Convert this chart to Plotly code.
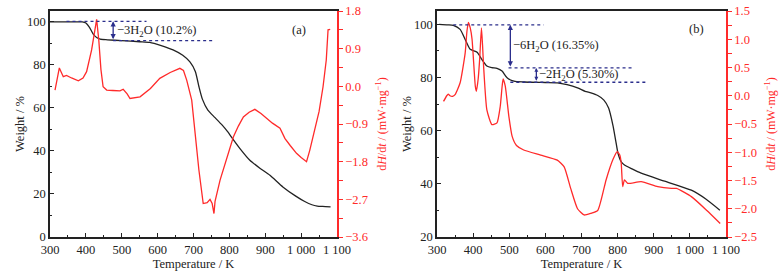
import plotly.graph_objects as go

# ---------- data: panel (a) ----------
tg_a_T = [300, 350, 390, 400, 410, 420, 430, 440, 460, 500, 550, 578, 610, 643, 670, 690, 705, 715, 725, 740, 760, 780, 795, 810, 830, 857, 885, 913, 949, 985, 1010, 1030, 1045, 1060, 1082]
tg_a_W = [100, 100, 100, 99.5, 97.5, 94.5, 92.8, 92.0, 91.7, 91.3, 90.8, 90.5, 89.0, 87.0, 84.5, 81.4, 77, 70, 64, 59, 55.5, 52, 49, 45.5, 41, 35.7, 32, 28.7, 23.3, 19, 16.5, 15, 14.4, 14.2, 14.0]

dsc_a_T = [314, 326, 337, 346, 360, 379, 392, 402, 416, 424, 430, 436, 442, 448, 458, 475, 495, 504, 515, 523, 551, 580, 606, 635, 662, 672, 681, 695, 704, 715, 727, 738, 746, 752, 757, 760, 774, 792, 806, 811, 825, 839, 855, 871, 888, 904, 920, 941, 955, 970, 987, 1000, 1015, 1024, 1038, 1050, 1061, 1070, 1075, 1081]
dsc_a_V = [-0.09, 0.44, 0.23, 0.26, 0.2, 0.13, 0.2, 0.35, 0.87, 1.3, 1.6, 1.1, 0.4, -0.01, -0.09, -0.1, -0.11, -0.07, -0.18, -0.29, -0.25, -0.05, 0.19, 0.33, 0.43, 0.38, 0.15, -0.33, -1.12, -2.0, -2.8, -2.78, -2.7, -2.8, -3.04, -2.75, -2.24, -1.72, -1.33, -1.21, -0.95, -0.73, -0.62, -0.55, -0.65, -0.77, -0.88, -1.0, -1.25, -1.42, -1.6, -1.7, -1.8, -1.53, -1.05, -0.6, -0.01, 0.63, 1.35, 1.36]

# ---------- data: panel (b) ----------
tg_b_T = [306, 330, 345, 364, 378, 392, 411, 424, 438, 452, 466, 480, 494, 513, 540, 600, 633, 660, 689, 710, 726, 745, 762, 775, 787, 795, 801, 810, 819, 840, 865, 930, 1004, 1045, 1083]
tg_b_W = [100, 99.8, 99.6, 98.1, 94.3, 90.6, 89.5, 86.8, 84.3, 83.7, 83.4, 82.4, 79.9, 78.6, 78.3, 78.1, 78.0, 77.3, 76.1, 74.8, 74.2, 73.2, 71.5, 68.5, 62, 56, 51.5, 48.3, 47.1, 45.6, 44.0, 41.0, 37.6, 34.2, 30.1]

dsc_b_T = [318, 327, 331, 336, 343, 350, 364, 378, 383, 387, 392, 397, 406, 409, 414, 418, 423, 426, 429, 438, 452, 466, 475, 480, 483, 489, 499, 508, 520, 540, 587, 633, 652, 670, 689, 707, 726, 745, 768, 787, 799, 806, 810, 814, 819, 828, 865, 911, 949, 963, 1005, 1047, 1084]
dsc_b_V = [-0.1, 0.0, 0.03, 0.0, -0.01, 0.02, 0.23, 0.76, 1.15, 1.3, 1.2, 1.0, 0.17, 0.08, 0.3, 0.64, 1.2, 0.9, 0.52, -0.25, -0.51, -0.48, -0.19, 0.15, 0.30, 0.17, -0.37, -0.72, -0.88, -0.96, -1.05, -1.14, -1.26, -1.64, -2.0, -2.11, -2.08, -2.03, -1.49, -1.13, -0.99, -1.05, -1.2, -1.61, -1.49, -1.55, -1.52, -1.61, -1.64, -1.64, -1.79, -2.03, -2.26]

x_tickvals = [300, 400, 500, 600, 700, 800, 900, 1000, 1100]
x_ticktext = ["300", "400", "500", "600", "700", "800", "900", "1 000", "1 100"]
ya_tickvals = [0, 20, 40, 60, 80, 100]
y2a_tickvals = [-3.6, -2.7, -1.8, -0.9, 0.0, 0.9, 1.8]
y2a_ticktext = ["\u22123.6", "\u22122.7", "\u22121.8", "\u22120.9", "0.0", "0.9", "1.8"]
yb_tickvals = [20, 40, 60, 80, 100]
y2b_tickvals = [-2.5, -2.0, -1.5, -1.0, -0.5, 0.0, 0.5, 1.0, 1.5]
y2b_ticktext = ["\u22122.5", "\u22122.0", "\u22121.5", "\u22121.0", "\u22120.5", "0.0", "0.5", "1.0", "1.5"]

FONT = "Liberation Serif, Times New Roman, serif"
RED = "#ff2a2a"
NAVY = "#2b2e8c"
BLACK = "#222222"

fig = go.Figure()
fig.add_trace(go.Scatter(x=tg_a_T, y=tg_a_W, mode="lines", line=dict(color=BLACK, width=1.3, shape="spline", smoothing=0.6), xaxis="x", yaxis="y", showlegend=False))
fig.add_trace(go.Scatter(x=dsc_a_T, y=dsc_a_V, mode="lines", line=dict(color=RED, width=1.3), xaxis="x", yaxis="y2", showlegend=False))
fig.add_trace(go.Scatter(x=tg_b_T, y=tg_b_W, mode="lines", line=dict(color=BLACK, width=1.3, shape="spline", smoothing=0.6), xaxis="x2", yaxis="y3", showlegend=False))
fig.add_trace(go.Scatter(x=dsc_b_T, y=dsc_b_V, mode="lines", line=dict(color=RED, width=1.3, shape="spline", smoothing=0.5), xaxis="x2", yaxis="y4", showlegend=False))

tickfont = dict(family=FONT, size=12.5, color="#222")
redfont = dict(family=FONT, size=12.5, color=RED)

def xax(domain, anchor):
    return dict(domain=domain, anchor=anchor, range=[300, 1100], tickvals=x_tickvals, ticktext=x_ticktext,
                automargin=False,
                ticks="inside", ticklen=4, tickcolor=BLACK, showline=True, linecolor=BLACK, linewidth=1.5,
                mirror=True, showgrid=False, zeroline=False, tickfont=tickfont,
                minor=dict(tickvals=[350, 450, 550, 650, 750, 850, 950, 1050], ticks="inside", ticklen=2, tickcolor=BLACK),
                title=dict(text="Temperature / K", font=dict(family=FONT, size=12.5, color="#222"), standoff=2))

def yax(anchor, rng, tv, minor_tv):
    return dict(anchor=anchor, range=rng, tickvals=tv, ticks="inside", ticklen=4, tickcolor=BLACK,
                automargin=False,
                showline=True, linecolor=BLACK, linewidth=1.5, showgrid=False, zeroline=False, tickfont=tickfont,
                minor=dict(tickvals=minor_tv, ticks="inside", ticklen=2, tickcolor=BLACK),
                title=dict(text="Weight / %", font=dict(family=FONT, size=12.5, color="#222"), standoff=0))

def y2ax(anchor, overlay, rng, tv, tt, minor_tv):
    return dict(anchor=anchor, overlaying=overlay, side="right", range=rng, tickvals=tv, ticktext=tt,
                automargin=False, ticklabeloverflow="allow",
                ticks="outside", ticklen=4, tickcolor=RED, showline=True, linecolor=RED, linewidth=1.5,
                showgrid=False, zeroline=False, tickfont=redfont,
                minor=dict(tickvals=minor_tv, ticks="outside", ticklen=4, tickcolor=RED),
                title=dict(text="d<i>H</i>/d<i>t</i> / (mW\u00b7mg<sup>\u22121</sup>)", font=dict(family=FONT, size=12, color=RED), standoff=11))

fig.update_layout(
    width=781, height=277, paper_bgcolor="white", plot_bgcolor="white",
    margin=dict(l=50, r=55, t=11, b=40),
    xaxis=xax([0, 0.4246], "y"),
    yaxis=yax("x", [0, 105.1], ya_tickvals, [10, 30, 50, 70, 90]),
    yaxis2=y2ax("x", "y", [-3.6, 1.8], y2a_tickvals, y2a_ticktext, [-3.15, -2.25, -1.35, -0.45, 0.45, 1.35]),
    xaxis2=xax([0.5725, 1], "y3"),
    yaxis3=yax("x2", [20, 105.0], yb_tickvals, [30, 50, 70, 90]),
    yaxis4=y2ax("x2", "y3", [-2.5, 1.5], y2b_tickvals, y2b_ticktext, [-2.25, -1.75, -1.25, -0.75, -0.25, 0.25, 0.75, 1.25]),
    font=dict(family=FONT),
)

dot = dict(color=NAVY, width=1.3, dash="dot")
shapes = [
    dict(type="line", xref="x", yref="y", x0=346, x1=569, y0=100.3, y1=100.3, line=dot),
    dict(type="line", xref="x", yref="y", x0=476, x1=753, y0=91.3, y1=91.3, line=dot),
    dict(type="line", xref="x2", yref="y3", x0=345, x1=595, y0=99.8, y1=99.8, line=dot),
    dict(type="line", xref="x2", yref="y3", x0=498, x1=842, y0=83.6, y1=83.6, line=dot),
    dict(type="line", xref="x2", yref="y3", x0=503, x1=879, y0=78.2, y1=78.2, line=dot),
]
fig.update_layout(shapes=shapes)

annots = [
    dict(xref="x", yref="y", axref="x", ayref="y", x=476, y=100.3, ax=476, ay=91.3, text="", showarrow=True,
         arrowhead=2, arrowside="end+start", arrowsize=0.8, arrowwidth=1.3, arrowcolor=NAVY),
    dict(xref="x", yref="y", x=481, y=95.8, text="\u22123H<sub>2</sub>O (10.2%)", showarrow=False, xanchor="left",
         font=dict(family=FONT, size=12.5, color="#222")),
    dict(xref="x", yref="y", x=995, y=96.3, text="(a)", showarrow=False, font=dict(family=FONT, size=12.5, color="#222")),
    dict(xref="x2", yref="y3", axref="x2", ayref="y3", x=503, y=99.8, ax=503, ay=83.6, text="", showarrow=True,
         arrowhead=2, arrowside="end+start", arrowsize=0.8, arrowwidth=1.3, arrowcolor=NAVY),
    dict(xref="x2", yref="y3", axref="x2", ayref="y3", x=575, y=83.6, ax=575, ay=78.2, text="", showarrow=True,
         arrowhead=2, arrowside="end+start", arrowsize=0.6, arrowwidth=1.3, arrowcolor=NAVY),
    dict(xref="x2", yref="y3", x=505, y=91.7, text="\u22126H<sub>2</sub>O (16.35%)", showarrow=False, xanchor="left",
         font=dict(family=FONT, size=12.5, color="#222")),
    dict(xref="x2", yref="y3", x=578, y=81.0, text="\u22122H<sub>2</sub>O (5.30%)", showarrow=False, xanchor="left",
         font=dict(family=FONT, size=12.5, color="#222")),
    dict(xref="x2", yref="y3", x=1018, y=98.1, text="(b)", showarrow=False, font=dict(family=FONT, size=12.5, color="#222")),
]
fig.update_layout(annotations=annots)

fig.write_html("out.html", config={"displayModeBar": False}, post_script="document.body.style.margin='0';")
